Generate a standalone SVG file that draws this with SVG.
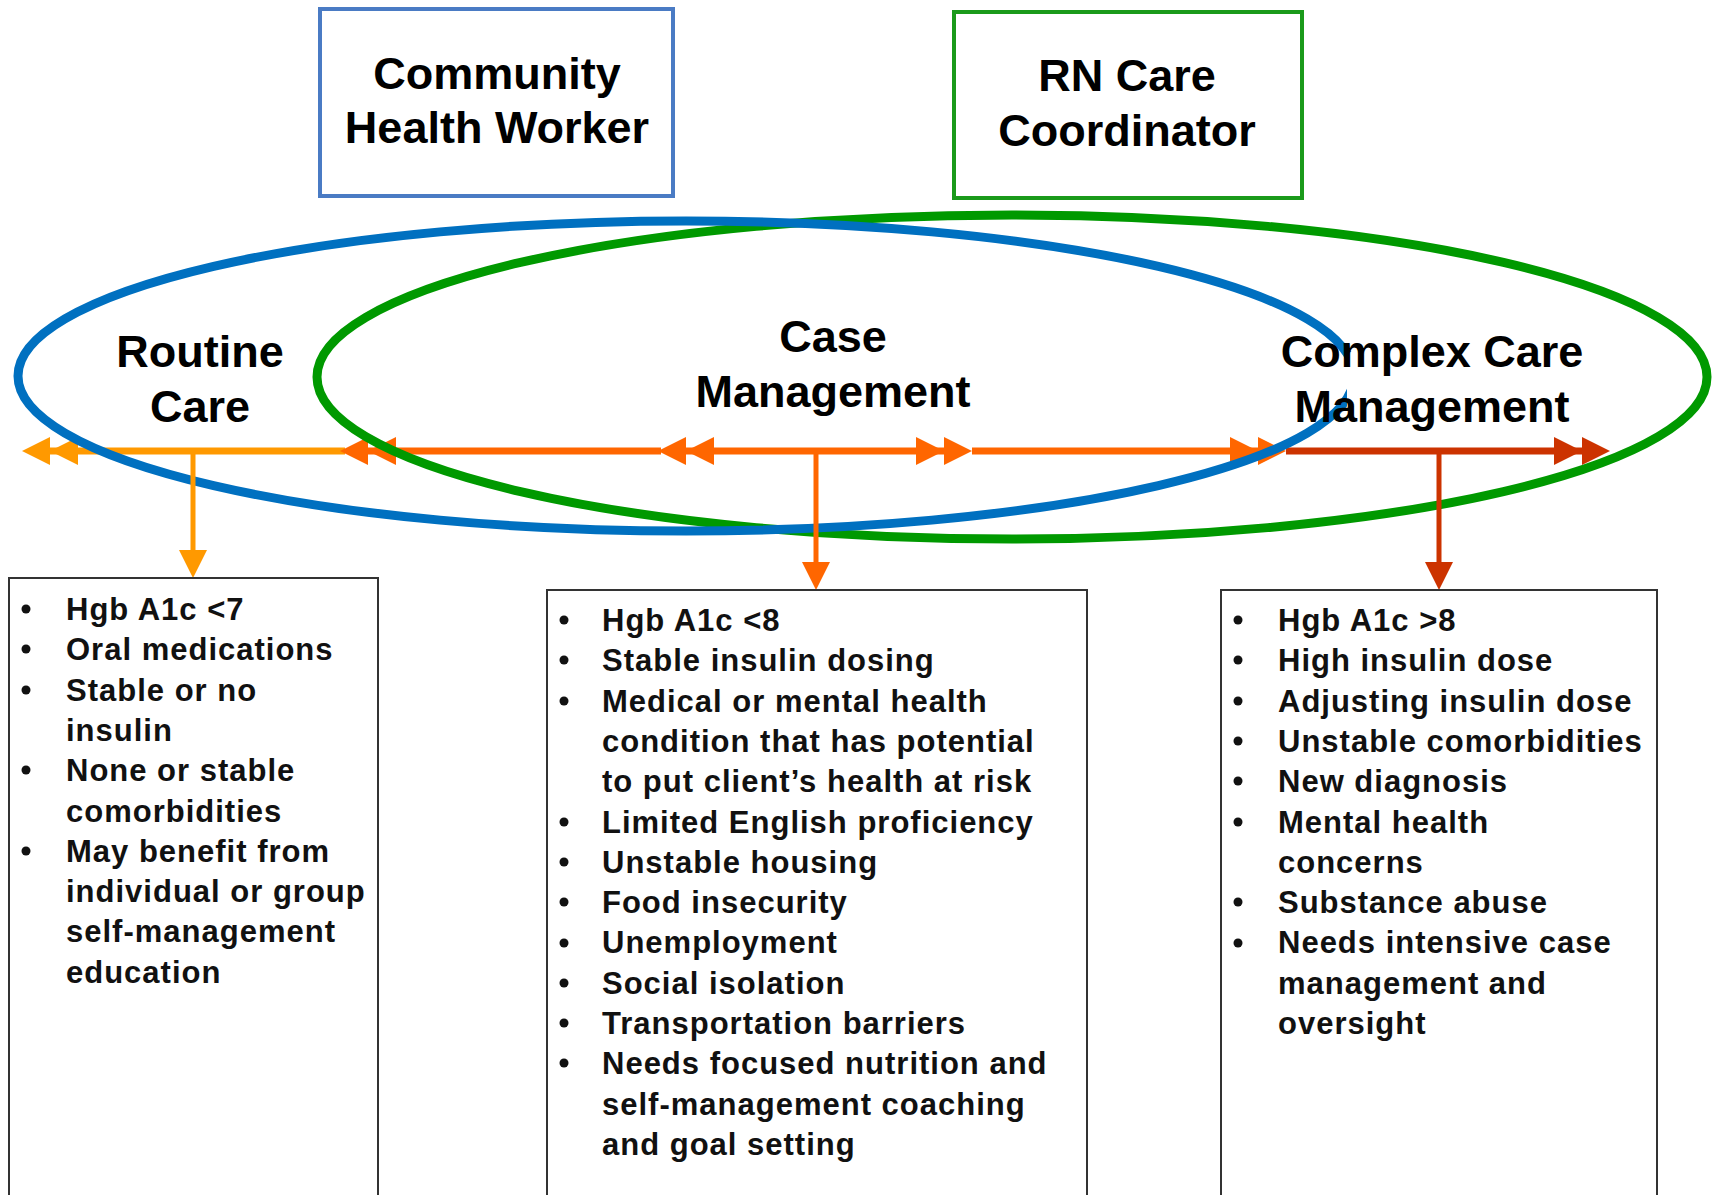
<svg xmlns="http://www.w3.org/2000/svg" xmlns:xlink="http://www.w3.org/1999/xlink" width="1714" height="1195" viewBox="0 0 1714 1195">
  <style>
    .title { font-family: "Liberation Sans", Arial, sans-serif; font-weight: bold; font-size: 45px; fill: #000; text-anchor: middle; }
    .item { font-family: "Liberation Sans", Arial, sans-serif; font-weight: bold; font-size: 31px; letter-spacing: 1px; fill: #111; }
    .list-box { fill: #fff; stroke: #333; stroke-width: 2; }
    .bullet { fill: #111; }
    .ring { fill: none; stroke-width: 9; }
    .bar { stroke-width: 7; fill: none; }
    .drop { stroke-width: 5; fill: none; }
    .yellow { stroke: #ff9900; fill: #ff9900; }
    .orange { stroke: #ff6600; fill: #ff6600; }
    .red { stroke: #cc3300; fill: #cc3300; }
  </style>
  <defs>
    <!-- arrowhead shapes, tip at the origin -->
    <path id="headL" d="M0,0 L28,-14 L28,14 Z" stroke="none"/>
    <path id="headR" d="M0,0 L-28,-14 L-28,14 Z" stroke="none"/>
    <path id="headD" d="M0,0 L-14,-28 L14,-28 Z" stroke="none"/>
  </defs>

  <rect width="1714" height="1195" fill="#fff"/>

  <!-- role boxes -->
  <g id="chw">
    <rect x="320" y="9" width="353" height="187" fill="#fff" stroke="#4a7bc4" stroke-width="4"/>
    <text class="title" x="497" y="89">Community</text>
    <text class="title" x="497" y="143">Health Worker</text>
  </g>
  <g id="rn">
    <rect x="954" y="12" width="348" height="186" fill="#fff" stroke="#1a9a1a" stroke-width="4"/>
    <text class="title" x="1127" y="91">RN Care</text>
    <text class="title" x="1127" y="146">Coordinator</text>
  </g>

  <!-- care continuum bar -->
  <g id="connectors-bar">
    <line class="bar yellow" x1="50" y1="451" x2="345" y2="451"/>
    <use href="#headL" x="22" y="451" class="yellow"/>
    <use href="#headL" x="50" y="451" class="yellow"/>

    <line class="bar orange" x1="368" y1="451" x2="661" y2="451"/>
    <use href="#headL" x="340" y="451" class="orange"/>
    <use href="#headL" x="368" y="451" class="orange"/>

    <line class="bar orange" x1="686" y1="451" x2="944" y2="451"/>
    <use href="#headL" x="658" y="451" class="orange"/>
    <use href="#headL" x="686" y="451" class="orange"/>
    <use href="#headR" x="944" y="451" class="orange"/>
    <use href="#headR" x="972" y="451" class="orange"/>

    <line class="bar orange" x1="972" y1="451" x2="1258" y2="451"/>
    <use href="#headR" x="1258" y="451" class="orange"/>
    <use href="#headR" x="1286" y="451" class="orange"/>

    <line class="bar red" x1="1286" y1="451" x2="1582" y2="451"/>
    <use href="#headR" x="1582" y="451" class="red"/>
    <use href="#headR" x="1610" y="451" class="red"/>
  </g>

  <!-- scope of each role -->
  <g id="rn-scope">
    <ellipse class="ring" cx="1012" cy="377" rx="695" ry="162" stroke="#009900"/>
  </g>
  <g id="chw-scope">
    <ellipse class="ring" cx="686" cy="376" rx="668" ry="155" stroke="#0070c0"/>
  </g>

  <!-- tier labels -->
  <g id="routine-care">
    <text class="title" x="200" y="367">Routine</text>
    <text class="title" x="200" y="422">Care</text>
  </g>
  <g id="case-management">
    <text class="title" x="833" y="352">Case</text>
    <text class="title" x="833" y="407">Management</text>
  </g>
  <g id="complex-care">
    <rect x="1347" y="352" width="250" height="60" fill="#fff"/>
    <text class="title" x="1432" y="367">Complex Care</text>
    <text class="title" x="1432" y="422">Management</text>
  </g>

  <!-- drops to criteria lists -->
  <g id="connectors-drops">
    <line class="drop yellow" x1="193" y1="451" x2="193" y2="552"/>
    <use href="#headD" x="193" y="578" class="yellow"/>
    <line class="drop orange" x1="816" y1="451" x2="816" y2="564"/>
    <use href="#headD" x="816" y="590" class="orange"/>
    <line class="drop red" x1="1439" y1="451" x2="1439" y2="564"/>
    <use href="#headD" x="1439" y="590" class="red"/>
  </g>

  <!-- criteria lists -->
  <g id="routine-list">
    <rect class="list-box" x="9" y="578" width="369" height="640"/>
    <circle class="bullet" cx="26" cy="609" r="4.5"/>
    <circle class="bullet" cx="26" cy="649" r="4.5"/>
    <circle class="bullet" cx="26" cy="690" r="4.5"/>
    <circle class="bullet" cx="26" cy="770" r="4.5"/>
    <circle class="bullet" cx="26" cy="851" r="4.5"/>
    <text class="item" x="66" y="620">Hgb A1c &lt;7</text>
    <text class="item" x="66" y="660">Oral medications</text>
    <text class="item" x="66" y="701">Stable or no</text>
    <text class="item" x="66" y="741">insulin</text>
    <text class="item" x="66" y="781">None or stable</text>
    <text class="item" x="66" y="822">comorbidities</text>
    <text class="item" x="66" y="862">May benefit from</text>
    <text class="item" x="66" y="902">individual or group</text>
    <text class="item" x="66" y="942">self-management</text>
    <text class="item" x="66" y="983">education</text>
  </g>

  <g id="case-list">
    <rect class="list-box" x="547" y="590" width="540" height="640"/>
    <circle class="bullet" cx="564" cy="620" r="4.5"/>
    <circle class="bullet" cx="564" cy="660" r="4.5"/>
    <circle class="bullet" cx="564" cy="701" r="4.5"/>
    <circle class="bullet" cx="564" cy="822" r="4.5"/>
    <circle class="bullet" cx="564" cy="862" r="4.5"/>
    <circle class="bullet" cx="564" cy="902" r="4.5"/>
    <circle class="bullet" cx="564" cy="943" r="4.5"/>
    <circle class="bullet" cx="564" cy="983" r="4.5"/>
    <circle class="bullet" cx="564" cy="1023" r="4.5"/>
    <circle class="bullet" cx="564" cy="1063" r="4.5"/>
    <text class="item" x="602" y="631">Hgb A1c &lt;8</text>
    <text class="item" x="602" y="671">Stable insulin dosing</text>
    <text class="item" x="602" y="712">Medical or mental health</text>
    <text class="item" x="602" y="752">condition that has potential</text>
    <text class="item" x="602" y="792">to put client’s health at risk</text>
    <text class="item" x="602" y="833">Limited English proficiency</text>
    <text class="item" x="602" y="873">Unstable housing</text>
    <text class="item" x="602" y="913">Food insecurity</text>
    <text class="item" x="602" y="953">Unemployment</text>
    <text class="item" x="602" y="994">Social isolation</text>
    <text class="item" x="602" y="1034">Transportation barriers</text>
    <text class="item" x="602" y="1074">Needs focused nutrition and</text>
    <text class="item" x="602" y="1115">self-management coaching</text>
    <text class="item" x="602" y="1155">and goal setting</text>
  </g>

  <g id="complex-list">
    <rect class="list-box" x="1221" y="590" width="436" height="640"/>
    <circle class="bullet" cx="1238" cy="620" r="4.5"/>
    <circle class="bullet" cx="1238" cy="660" r="4.5"/>
    <circle class="bullet" cx="1238" cy="701" r="4.5"/>
    <circle class="bullet" cx="1238" cy="741" r="4.5"/>
    <circle class="bullet" cx="1238" cy="781" r="4.5"/>
    <circle class="bullet" cx="1238" cy="822" r="4.5"/>
    <circle class="bullet" cx="1238" cy="902" r="4.5"/>
    <circle class="bullet" cx="1238" cy="943" r="4.5"/>
    <text class="item" x="1278" y="631">Hgb A1c &gt;8</text>
    <text class="item" x="1278" y="671">High insulin dose</text>
    <text class="item" x="1278" y="712">Adjusting insulin dose</text>
    <text class="item" x="1278" y="752">Unstable comorbidities</text>
    <text class="item" x="1278" y="792">New diagnosis</text>
    <text class="item" x="1278" y="833">Mental health</text>
    <text class="item" x="1278" y="873">concerns</text>
    <text class="item" x="1278" y="913">Substance abuse</text>
    <text class="item" x="1278" y="953">Needs intensive case</text>
    <text class="item" x="1278" y="994">management and</text>
    <text class="item" x="1278" y="1034">oversight</text>
  </g>
</svg>
